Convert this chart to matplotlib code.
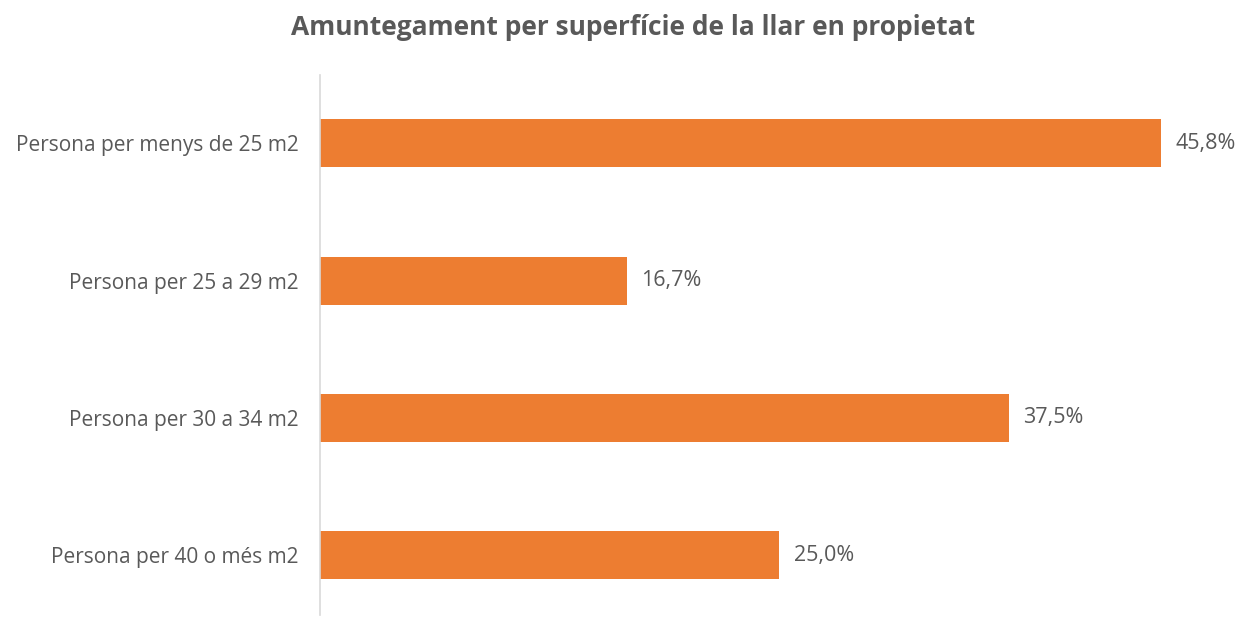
import matplotlib
matplotlib.use("Agg")
import matplotlib.pyplot as plt

categories = ["Persona per menys de 25 m2", "Persona per 25 a 29 m2",
              "Persona per 30 a 34 m2", "Persona per 40 o més m2"]
values = [45.8, 16.7, 37.5, 25.0]
title = "Amuntegament per superfície de la llar en propietat"

plt.rcParams['font.family'] = ['Open Sans', 'DejaVu Sans']
gray = '#595959'

fig = plt.figure(figsize=(12.39, 6.17), dpi=100)
ax = fig.add_axes([0.2583, 0.003, 0.741, 0.875])

ypos = list(range(len(categories)))
bars = ax.barh(ypos, values, height=0.35, color='#ED7D31')
ax.set_ylim(3.437, -0.495)
ax.set_xlim(0, 50)
ax.set_yticks(ypos)
ax.set_yticklabels(categories, fontsize=15, color=gray)
ax.tick_params(axis='y', length=0, pad=15.5)
ax.set_xticks([])

for s in ['top', 'right', 'bottom']:
    ax.spines[s].set_visible(False)
ax.spines['left'].set_color('#D9D9D9')
ax.spines['left'].set_linewidth(1.2)

for b, v in zip(bars, values):
    ax.text(b.get_width() + 0.8, b.get_y() + b.get_height() / 2,
            ("%.1f%%" % v).replace('.', ','), va='center', ha='left',
            fontsize=15.5, color=gray)

fig.text(0.511, 0.956, title, ha='center', va='center', fontsize=19,
         fontweight='bold', color=gray)

fig.savefig("out.png", dpi=100)
